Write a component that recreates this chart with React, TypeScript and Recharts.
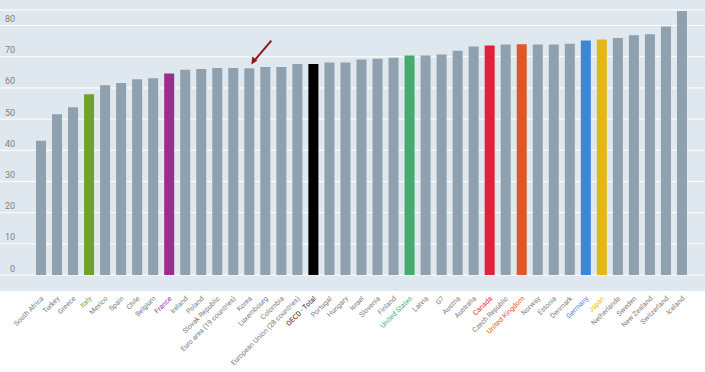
import { BarChart, Bar, XAxis, YAxis, CartesianGrid, Cell, ReferenceDot } from "recharts";

const countries = [
  "South Africa", "Turkey", "Greece", "Italy", "Mexico", "Spain", "Chile", "Belgium", "France",
  "Ireland", "Poland", "Slovak Republic", "Euro area (19 countries)", "Korea", "Luxembourg",
  "Colombia", "European Union (28 countries)", "OECD - Total", "Portugal", "Hungary", "Israel",
  "Slovenia", "Finland", "United States", "Latvia", "G7", "Austria", "Australia", "Canada",
  "Czech Republic", "United Kingdom", "Norway", "Estonia", "Denmark", "Germany", "Japan",
  "Netherlands", "Sweden", "New Zealand", "Switzerland", "Iceland",
];

const values = [
  43.1, 51.6, 53.8, 58.0, 60.9, 61.6, 62.8, 63.1, 64.6,
  65.8, 66.1, 66.4, 66.4, 66.3, 66.7,
  66.7, 67.7, 67.7, 68.2, 68.2, 69.1,
  69.4, 69.7, 70.4, 70.4, 70.7, 71.9, 73.3, 73.6,
  73.9, 74.0, 73.9, 73.9, 74.2, 75.2, 75.5,
  76.0, 76.9, 77.2, 79.7, 84.7,
];

const yTicks = [0, 10, 20, 30, 40, 50, 60, 70, 80];

const highlight: Record<string, string> = {
  Italy: "#6fa22b",
  France: "#9b2d8b",
  "OECD - Total": "#000000",
  "United States": "#47ab6f",
  Canada: "#e0233b",
  "United Kingdom": "#df5629",
  Germany: "#3d86d9",
  Japan: "#e3b816",
};

const data = countries.map((name, i) => ({ name, value: values[i] }));

const BAR = "#8fa0ae";
const LABEL = "#7a7a7a";

const XTick = (props: any) => {
  const { x, payload } = props;
  const name = payload.value as string;
  let fill = highlight[name] || LABEL;
  if (name === "OECD - Total") fill = "#222";
  const ax = x + 3;
  const ay = 299;
  return (
    <text
      x={ax}
      y={ay}
      transform={`rotate(-45, ${ax}, ${ay})`}
      textAnchor="end"
      fontSize={7}
      fill={fill}
      fontFamily="Roboto, sans-serif"
    >
      {name}
    </text>
  );
};

const YTick = (props: any) => {
  const { y, payload } = props;
  return (
    <text x={15} y={y - 3.5} textAnchor="end" fontSize={9} fill="#7f7f7f" fontFamily="Roboto, sans-serif">
      {payload.value}
    </text>
  );
};

const Arrow = (props: any) => {
  const { cx, cy } = props;
  const tx = cx + 2;
  const ty = cy;
  return (
    <g>
      <line x1={tx + 20} y1={ty - 24} x2={tx + 3} y2={ty - 4} stroke="#8b1a1a" strokeWidth={2} />
      <polygon points={`${tx},${ty} ${tx + 1},${ty - 8} ${tx + 6},${ty - 4}`} fill="#8b1a1a" />
    </g>
  );
};

export default function App() {
  return (
    <div style={{ position: "absolute", left: 0, top: 0, width: 705, height: 372, background: "#fff" }}>
      <div style={{ position: "absolute", left: 0, top: 0, width: 705, height: 291, background: "#dfe8ef" }} />
      <div style={{ position: "absolute", left: 0, top: 0 }}>
        <BarChart width={705} height={372} data={data} margin={{ top: 10, right: 0, bottom: 0, left: 0 }}>
          <CartesianGrid horizontal vertical={false} stroke="#ffffff" strokeWidth={1} />
          <XAxis
            dataKey="name"
            interval={0}
            tickLine={false}
            axisLine={false}
            height={97}
            padding={{ left: 33, right: 15 }}
            tick={<XTick />}
          />
          <YAxis
            domain={[0, 85]}
            ticks={yTicks}
            mirror
            width={40}
            axisLine={false}
            tickLine={false}
            interval={0}
            tick={<YTick />}
          />
          <Bar dataKey="value" barSize={10} isAnimationActive={false}>
            {data.map((d) => (
              <Cell key={d.name} fill={highlight[d.name] || BAR} />
            ))}
          </Bar>
          <ReferenceDot x="Korea" y={67.5} r={0} shape={<Arrow />} />
        </BarChart>
      </div>
    </div>
  );
}
